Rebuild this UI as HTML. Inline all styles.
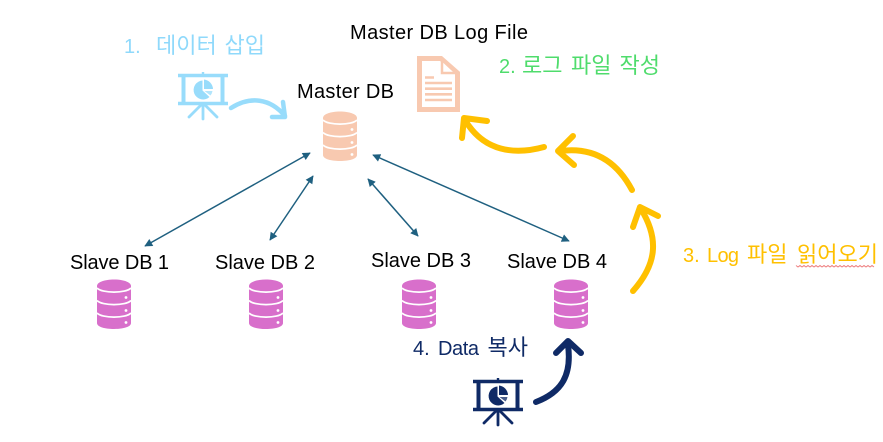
<!DOCTYPE html>
<html><head><meta charset="utf-8">
<style>
html,body{margin:0;padding:0;background:#fff}
svg{display:block}
text{font-family:"Liberation Sans","Noto Sans CJK KR",sans-serif;font-size:20px}
tspan.k{font-size:22px}
</style></head>
<body>
<svg width="883" height="442" viewBox="0 0 883 442" xmlns="http://www.w3.org/2000/svg">
<defs>
<marker id="ah" viewBox="0 0 10 10" refX="9" refY="5" markerWidth="9" markerHeight="8" markerUnits="userSpaceOnUse" orient="auto-start-reverse"><path d="M0 0L10 5L0 10z" fill="#1f6080"/></marker>
<g id="db">
<path d="M0 6.500C0 2.500 8 0 17 0S34 2.500 34 6.500V43.500C34 47.500 26 49.500 17 49.500S0 47.500 0 43.500Z"/>
<g fill="none" stroke="#fff" stroke-width="1.700">
<path d="M0 8.500C5 14 29 14 34 8.500"/>
<path d="M0 21C5 26.500 29 26.500 34 21"/>
<path d="M0 33.500C5 39 29 39 34 33.500"/>
</g>
<circle cx="29" cy="18" r="1.400" fill="#fff"/><circle cx="29" cy="31" r="1.400" fill="#fff"/><circle cx="29" cy="43" r="1.400" fill="#fff"/>
</g>
<g id="pres">
<path d="M25 0V4" stroke-width="2.400"/>
<path d="M0 3.500H50M0 31.500H50" stroke-width="3.400"/>
<path d="M5.500 3.500V31.500M44.500 3.500V31.500" stroke-width="4"/>
<path d="M25 32V47M23 33L11 45M27 33L39 45" stroke-width="2.800" stroke-linecap="round"/>
</g>
<g id="pie">
<path d="M24.500 8.500A9.500 9.500 0 1 0 31.500 25L24.500 18.500Z"/>
<path d="M26 7.500A10 10 0 0 1 35 17H26Z"/>
<path d="M26.500 19H34.500A9.500 9.500 0 0 1 32.500 23.500Z" opacity=".75"/>
</g>
</defs>

<text y="53" fill="#8fd9fb"><tspan x="124">1.</tspan><tspan class="k" x="156">데이터</tspan><tspan class="k" x="224.500">삽입</tspan></text>
<text x="350" y="39" fill="#000" textLength="178" lengthAdjust="spacing">Master DB Log File</text>
<text y="73" fill="#4fdc6c"><tspan x="499">2.</tspan><tspan class="k" x="522">로그</tspan><tspan class="k" x="571">파일</tspan><tspan class="k" x="619.500">작성</tspan></text>
<text x="297" y="98" fill="#000" textLength="97" lengthAdjust="spacing">Master DB</text>
<text x="70" y="269" fill="#000" textLength="99" lengthAdjust="spacing">Slave DB 1</text>
<text x="215" y="269" fill="#000" textLength="100" lengthAdjust="spacing">Slave DB 2</text>
<text x="371" y="267" fill="#000" textLength="100" lengthAdjust="spacing">Slave DB 3</text>
<text x="507" y="268" fill="#000" textLength="100" lengthAdjust="spacing">Slave DB 4</text>
<text y="262" fill="#ffc000"><tspan x="683">3.</tspan><tspan x="707" textLength="32" lengthAdjust="spacing">Log</tspan><tspan class="k" x="747">파일</tspan><tspan class="k" x="797">읽어오기</tspan></text>
<text y="355" fill="#0f2a66"><tspan x="413">4.</tspan><tspan x="438" textLength="41" lengthAdjust="spacing">Data</tspan><tspan class="k" x="487.500">복사</tspan></text>
<path d="M796 265.500l2 1.500l2-1.500l2 1.500l2-1.500l2 1.500l2-1.500l2 1.500l2-1.500l2 1.500l2-1.500l2 1.500l2-1.500l2 1.500l2-1.500l2 1.500l2-1.500l2 1.500l2-1.500l2 1.500l2-1.500l2 1.500l2-1.500l2 1.500l2-1.500l2 1.500l2-1.500l2 1.500l2-1.500l2 1.500l2-1.500l2 1.500l2-1.500l2 1.500l2-1.500l2 1.500l2-1.500l2 1.500l2-1.500l2 1.500" fill="none" stroke="#ee7f7f" stroke-width="1"/>

<use href="#pres" x="178" y="72" stroke="#98dcfb" fill="none"/>
<use href="#pie" x="178" y="72" fill="#98dcfb"/>
<use href="#pres" x="473" y="378" stroke="#0f2a66" fill="none"/>
<use href="#pie" x="473" y="378" fill="#0f2a66"/>

<path d="M231 108C250 96 270 98 285 116M272 117L285 117L283 102" fill="none" stroke="#98dcfb" stroke-width="4.500" stroke-linecap="round" stroke-linejoin="round"/>

<use href="#db" x="323" y="111.500" fill="#f8c9b0"/>
<use href="#db" x="97" y="279.500" fill="#d86fcb"/>
<use href="#db" x="249" y="279.500" fill="#d86fcb"/>
<use href="#db" x="402" y="279.500" fill="#d86fcb"/>
<use href="#db" x="554" y="279.500" fill="#d86fcb"/>

<path d="M419.500 58.500H441L457.500 73V109.500H419.500Z" fill="none" stroke="#f8c9b0" stroke-width="5"/>
<path d="M442 60V73H456Z" fill="#fff" stroke="#f8c9b0" stroke-width="2.500"/>
<path d="M425 77.500H434M425 83H452M425 88.700H452M425 94.300H452M425 100H452" stroke="#f8c9b0" stroke-width="2.600"/>

<g stroke="#1f6080" stroke-width="1.500">
<line x1="310" y1="153" x2="145" y2="246" marker-start="url(#ah)" marker-end="url(#ah)"/>
<line x1="313" y1="176" x2="270" y2="240" marker-start="url(#ah)" marker-end="url(#ah)"/>
<line x1="368" y1="179" x2="418" y2="236" marker-start="url(#ah)" marker-end="url(#ah)"/>
<line x1="373" y1="155" x2="569" y2="241" marker-start="url(#ah)" marker-end="url(#ah)"/>
</g>

<g fill="none" stroke="#ffc000" stroke-width="6" stroke-linecap="round" stroke-linejoin="round">
<path d="M544 147C515 155 484 152 465 120M487 121L464 118L462 138"/>
<path d="M632 190C615 158 590 147 560 151M573 136L558 151L574 165"/>
<path d="M633 291C656 265 660 240 641 209M658 216L640 207L633 227"/>
</g>
<path d="M536 402C562 392 572 375 568 345M556 353L568 341L581 353" fill="none" stroke="#0f2a66" stroke-width="6" stroke-linecap="round" stroke-linejoin="round"/>
</svg>
</body></html>
